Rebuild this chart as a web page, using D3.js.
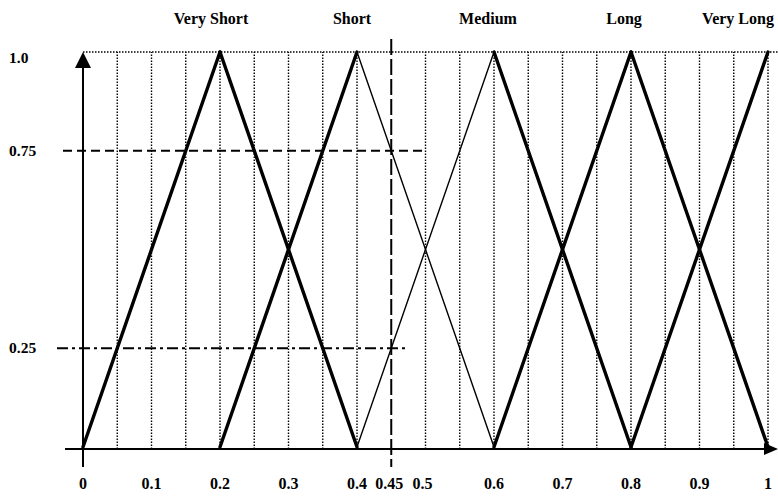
<!DOCTYPE html>
<html>
<head>
<meta charset="utf-8">
<script src="https://cdn.jsdelivr.net/npm/d3@7"></script>
<style>
  html, body { margin: 0; padding: 0; background: #fff; }
  svg { display: block; }
  text { font-family: "Liberation Serif", "Times New Roman", serif; font-weight: bold; fill: #000; }
</style>
</head>
<body>
<svg id="chart" width="778" height="496"></svg>
<script>
// ---- data ----
const categories = ["Very Short", "Short", "Medium", "Long", "Very Long"];
const peaks = [0.2, 0.4, 0.6, 0.8, 1.0];
const halfWidth = 0.2;
// line weight of the rising / falling side of each triangle ("thick" / "thin" / null = not drawn)
const risingSide = ["thick", "thick", "thin", "thick", "thick"];
const fallingSide = ["thick", "thin", "thick", "thick", null];
const xTickValues = [0, 0.1, 0.2, 0.3, 0.4, 0.45, 0.5, 0.6, 0.7, 0.8, 0.9, 1];
const xTickLabels = ["0", "0.1", "0.2", "0.3", "0.4", "0.45", "0.5", "0.6", "0.7", "0.8", "0.9", "1"];
const yTickValues = [1.0, 0.75, 0.25];
const yTickLabels = ["1.0", "0.75", "0.25"];
const gridValues = d3.range(1, 21).map(i => i * 0.05).filter(v => Math.abs(v - 0.45) > 1e-6);
const cutValue = 0.45;
const cutLevels = [0.75, 0.25];
const cutStyles = ["dashed", "dashdot"];

// ---- layout ----
const svg = d3.select("#chart");
const x = d3.scaleLinear().domain([0, 1]).range([83, 768]);
const y = d3.scaleLinear().domain([0, 1]).range([447, 52]);
const baseY = 449;

// dotted grid
const g = svg.append("g");
g.selectAll("line.grid").data(gridValues).enter().append("line")
  .attr("x1", d => x(d)).attr("x2", d => x(d))
  .attr("y1", baseY).attr("y2", y(1))
  .attr("stroke", "#000").attr("stroke-width", 1.4)
  .attr("stroke-dasharray", "1.5,1.5");
g.append("line")
  .attr("x1", x(0)).attr("x2", 778)
  .attr("y1", y(1)).attr("y2", y(1))
  .attr("stroke", "#000").attr("stroke-width", 1.4)
  .attr("stroke-dasharray", "1.5,1.5");

// horizontal cut lines
const dashes = { dashed: "9,5", dashdot: "11,4,3,4" };
const cutStart = [63, 57];
const cutEnd = [x(0.495), x(0.47)];
cutLevels.forEach((lv, i) => {
  svg.append("line")
    .attr("x1", cutStart[i]).attr("x2", cutEnd[i])
    .attr("y1", y(lv)).attr("y2", y(lv))
    .attr("stroke", "#000").attr("stroke-width", 2)
    .attr("stroke-dasharray", dashes[cutStyles[i]]);
});

// membership triangles
const segs = [];
peaks.forEach((p, i) => {
  if (risingSide[i]) segs.push({ a: [p - halfWidth, 0], b: [p, 1], w: risingSide[i] });
  if (fallingSide[i]) segs.push({ a: [p, 1], b: [p + halfWidth, 0], w: fallingSide[i] });
});
svg.selectAll("line.mf").data(segs).enter().append("line")
  .attr("x1", d => x(d.a[0])).attr("y1", d => y(d.a[1]))
  .attr("x2", d => x(d.b[0])).attr("y2", d => y(d.b[1]))
  .attr("stroke", "#000")
  .attr("stroke-width", d => d.w === "thick" ? 3.4 : 1.4)
  .attr("stroke-linecap", "round");

// vertical cut line at 0.45
svg.append("line")
  .attr("x1", x(cutValue)).attr("x2", x(cutValue))
  .attr("y1", 39).attr("y2", 467)
  .attr("stroke", "#000").attr("stroke-width", 2)
  .attr("stroke-dasharray", "16,4");

// axes
svg.append("line").attr("x1", x(0)).attr("x2", x(0)).attr("y1", 467).attr("y2", 62)
  .attr("stroke", "#000").attr("stroke-width", 2);
svg.append("path")
  .attr("d", `M${x(0)},${y(1)} L${x(0) - 8},${y(1) + 16} L${x(0) + 8},${y(1) + 16} Z`)
  .attr("fill", "#000");
svg.append("line").attr("x1", 65).attr("x2", 768).attr("y1", baseY).attr("y2", baseY)
  .attr("stroke", "#000").attr("stroke-width", 2.2);
svg.append("path")
  .attr("d", `M778,${baseY} L764,${baseY - 6} L764,${baseY + 6} Z`)
  .attr("fill", "#000");

// category labels
const labelDx = [-9, -5, -6, -7, -30];
svg.selectAll("text.cat").data(categories).enter().append("text")
  .attr("x", (d, i) => x(peaks[i]) + labelDx[i]).attr("y", 24)
  .attr("text-anchor", "middle").attr("font-size", 16)
  .text(d => d);

// y labels
svg.selectAll("text.ylab").data(yTickValues).enter().append("text")
  .attr("x", 9).attr("y", d => y(d) + (d === 1 ? 11 : 5))
  .attr("font-size", 15.5)
  .text((d, i) => yTickLabels[i]);

// x labels
const xLabelDx = xTickValues.map(v => v === 0.45 ? -2 : (v === 0.5 ? -3 : 0));
svg.selectAll("text.xlab").data(xTickValues).enter().append("text")
  .attr("x", (d, i) => x(d) + xLabelDx[i]).attr("y", 489)
  .attr("text-anchor", "middle").attr("font-size", 16)
  .text((d, i) => xTickLabels[i]);
</script>
</body>
</html>
